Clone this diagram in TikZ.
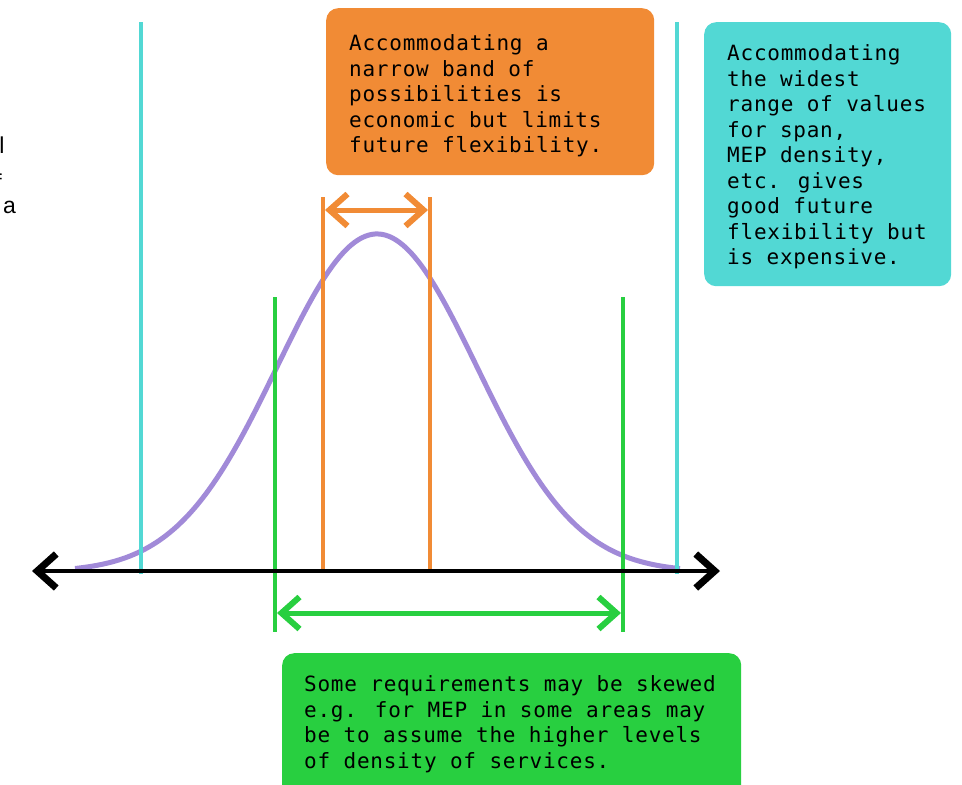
\documentclass[tikz,border=0pt]{standalone}
\usepackage{fontspec}
\usetikzlibrary{arrows.meta}
\newfontfamily\notefont[LetterSpace=3.6]{DejaVu Sans Mono}
\newfontfamily\cutfont{Liberation Sans}

\definecolor{noteorange}{HTML}{F18B35}
\definecolor{notecyan}{HTML}{52D8D4}
\definecolor{notegreen}{HTML}{28CF40}
\definecolor{bellpurple}{HTML}{A18AD8}

\newcommand{\notelines}[2]{\makebox[#1][l]{\begin{tabular}[t]{@{}l@{}}#2\end{tabular}}}

\tikzstyle{note} = [anchor=north west, rounded corners=12pt, inner ysep=0pt,
    inner xsep=23pt, font=\notefont\fontsize{21}{25.5}\selectfont]
\tikzstyle{cut} = [inner sep=0pt, font=\cutfont\fontsize{23}{27}\selectfont]
\tikzstyle{limit} = [line width=3.5pt]
\tikzstyle{span} = [line width=5pt,
    {Straight Barb[length=18pt,width=32pt,line width=6pt]}-{Straight Barb[length=18pt,width=32pt,line width=6pt]}]
\tikzstyle{axis} = [line width=4pt,
    {Straight Barb[length=19pt,width=34pt,line width=7pt]}-{Straight Barb[length=19pt,width=34pt,line width=7pt]}]

\begin{document}
\begin{tikzpicture}[x=1pt, y=-1pt]
\useasboundingbox (0,0) rectangle (962,785);

% cut-off text at the left edge
\node[cut, anchor=base east] (cutl) at (4.6,153) {l};
\node[cut, anchor=base east] (cutf) at (2,190) {f};
\node[cut, anchor=base west] (cuta) at (3,213) {a};

% notes
\node[note, fill=noteorange, text height=42.3pt, text depth=124.7pt] (narrow) at (326,8)
    {\notelines{282pt}{Accommodating a\\
     narrow band of\\
     possibilities is\\
     economic but limits\\
     future flexibility.}};
\node[note, fill=notecyan, text height=38.3pt, text depth=225.7pt] (widest) at (704,22)
    {\notelines{201pt}{Accommodating\\
     the widest\\
     range of values\\
     for span,\\
     MEP density,\\
     etc. gives\\
     good future\\
     flexibility but\\
     is expensive.}};
\node[note, fill=notegreen, inner xsep=22pt, text height=38.3pt, text depth=130pt] (skewed) at (282,653)
    {\notelines{415pt}{Some requirements may be skewed\\
     e.g. for MEP in some areas may\\
     be to assume the higher levels\\
     of density of services.}};

% bell curve
\draw[bellpurple, line width=5pt]
    plot[domain=75:680, samples=120, smooth]
    (\x, {572-338*exp(-0.5*((\x-377)/100)^2)});

% limits
\coordinate (wide west top) at (141,22);
\coordinate (wide west foot) at (141,574);
\coordinate (wide east top) at (677,22);
\coordinate (wide east foot) at (677,574);
\coordinate (narrow west top) at (323,197);
\coordinate (narrow west foot) at (323,571);
\coordinate (narrow east top) at (430,197);
\coordinate (narrow east foot) at (430,571);
\coordinate (skew west top) at (275,297);
\coordinate (skew west foot) at (275,632);
\coordinate (skew east top) at (623,297);
\coordinate (skew east foot) at (623,632);

\draw[limit, notecyan] (wide west top) -- (wide west foot);
\draw[limit, notecyan] (wide east top) -- (wide east foot);
\draw[limit, noteorange] (narrow west top) -- (narrow west foot);
\draw[limit, noteorange] (narrow east top) -- (narrow east foot);
\draw[limit, notegreen] (skew west top) -- (skew west foot);
\draw[limit, notegreen] (skew east top) -- (skew east foot);

% spans
\coordinate (narrow left) at (325,210);
\coordinate (narrow right) at (428,210);
\coordinate (skew left) at (277,613);
\coordinate (skew right) at (621,613);
\draw[span, noteorange] (narrow left) -- (narrow right);
\draw[span, notegreen] (skew left) -- (skew right);

% axis
\coordinate (axis west) at (32,571);
\coordinate (axis east) at (720,571);
\draw[axis] (axis west) -- (axis east);
\end{tikzpicture}
\end{document}
